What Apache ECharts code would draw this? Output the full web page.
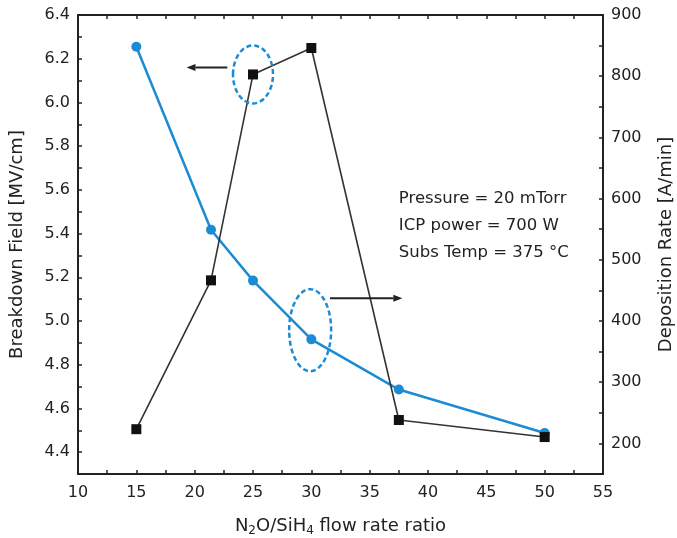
<!DOCTYPE html>
<html>
<head>
<meta charset="utf-8">
<script src="https://cdn.jsdelivr.net/npm/echarts@6/dist/echarts.min.js"></script>
<style>
    html, body { margin: 0; padding: 0; background: #fff; }
    #chart { width: 677px; height: 538px; }
</style>
</head>
<body>
<div id="chart"></div>
<script>
/* ===========================
   Data
=========================== */

const ratio = [15, 21.4, 25, 30, 37.5, 50];
const breakdownField = [4.505, 5.186, 6.128, 6.249, 4.547, 4.469];
const depositionRate = [848, 549, 466, 370, 288, 217];

const conditions = ["Pressure = 20 mTorr", "ICP power = 700 W", "Subs Temp = 375 \u00b0C"];

const BLUE = "#1b8bd3";
const INK = "#222";
const FONT = "DejaVu Sans";

/* ===========================
   Axes helpers
=========================== */

function xAxisBase(pos, showLabel) {
    return {
        type: "value",
        position: pos,
        min: 10,
        max: 55,
        interval: 2.5,
        axisLine: { show: true, lineStyle: { color: INK, width: 2 } },
        axisTick: { show: true, inside: true, length: 4, lineStyle: { color: INK, width: 1.5 } },
        splitLine: { show: false },
        axisLabel: {
            show: showLabel,
            margin: 11,
            color: INK,
            fontFamily: FONT,
            fontSize: 16,
            formatter: v => (Math.abs(v % 5) < 1e-6 ? String(v) : "")
        }
    };
}

/* ===========================
   Chart
=========================== */

const chart = echarts.init(document.getElementById("chart"));

chart.setOption({

    animation: false,

    grid: {
        left: 78, right: 74, top: 15, bottom: 64,
        containLabel: false,
        outerBoundsMode: "none"
    },

    xAxis: [
        Object.assign(xAxisBase("bottom", true), {
            name: "N{sub|2}O/SiH{sub|4} flow rate ratio",
            nameLocation: "middle",
            nameGap: 41,
            nameTextStyle: {
                color: INK,
                fontFamily: FONT,
                fontSize: 18,
                rich: {
                    sub: { fontFamily: FONT, fontSize: 12, color: INK, padding: [10, 0, 0, 0] }
                }
            }
        }),
        xAxisBase("top", false)
    ],

    yAxis: [
        {
            type: "value",
            position: "left",
            min: 4.3,
            max: 6.4,
            interval: 0.1,
            name: "Breakdown Field [MV/cm]",
            nameLocation: "middle",
            nameRotate: 90,
            nameGap: 52,
            nameTextStyle: { color: INK, fontFamily: FONT, fontSize: 18 },
            axisLine: { show: true, lineStyle: { color: INK, width: 2 } },
            axisTick: { show: true, inside: true, length: 4, lineStyle: { color: INK, width: 1.5 } },
            splitLine: { show: false },
            axisLabel: {
                margin: 8,
                color: INK,
                fontFamily: FONT,
                fontSize: 16,
                formatter: v => (Math.round(v * 10) % 2 === 0 ? v.toFixed(1) : "")
            }
        },
        {
            type: "value",
            position: "right",
            min: 150,
            max: 900,
            interval: 50,
            name: "Deposition Rate [A/min]",
            nameLocation: "middle",
            nameRotate: 90,
            nameGap: 54,
            nameTextStyle: { color: INK, fontFamily: FONT, fontSize: 18 },
            axisLine: { show: true, lineStyle: { color: INK, width: 2 } },
            axisTick: { show: true, inside: true, length: 4, lineStyle: { color: INK, width: 1.5 } },
            splitLine: { show: false },
            axisLabel: {
                margin: 8,
                color: INK,
                fontFamily: FONT,
                fontSize: 16,
                formatter: v => (v % 100 === 0 ? String(v) : "")
            }
        }
    ],

    series: [
        {
            name: "Deposition Rate",
            type: "line",
            xAxisIndex: 0,
            yAxisIndex: 1,
            data: ratio.map((x, i) => [x, depositionRate[i]]),
            symbol: "circle",
            symbolSize: 10,
            lineStyle: { color: BLUE, width: 2.5 },
            itemStyle: { color: BLUE }
        },
        {
            name: "Breakdown Field",
            type: "line",
            xAxisIndex: 0,
            yAxisIndex: 0,
            data: ratio.map((x, i) => [x, breakdownField[i]]),
            symbol: "rect",
            symbolSize: 10,
            lineStyle: { color: "#333", width: 1.6 },
            itemStyle: { color: "#111" }
        }
    ]

});

/* ===========================
   Annotations
=========================== */

const toLeft = p => chart.convertToPixel({ xAxisIndex: 0, yAxisIndex: 0 }, p);
const toRight = p => chart.convertToPixel({ xAxisIndex: 0, yAxisIndex: 1 }, p);

function ellipse(c, rx, ry) {
    return {
        type: "ellipse",
        shape: { cx: c[0], cy: c[1], rx: rx, ry: ry },
        style: { fill: "none", stroke: BLUE, lineWidth: 2.5, lineDash: [5, 3] },
        z: 10
    };
}

function arrow(a, b) {
    const dir = Math.sign(b[0] - a[0]);
    const tip = b;
    const base = tip[0] - dir * 9;
    return [
        {
            type: "line",
            shape: { x1: a[0], y1: a[1], x2: base, y2: b[1] },
            style: { stroke: INK, lineWidth: 2 },
            z: 10
        },
        {
            type: "polygon",
            shape: { points: [[tip[0], tip[1]], [base, tip[1] - 3.5], [base, tip[1] + 3.5]] },
            style: { fill: INK },
            z: 10
        }
    ];
}

const textY = [599, 555, 511];

const graphics = [
    ellipse(toLeft([25, 6.128]), 20, 29),
    ellipse(toRight([29.9, 385]), 21, 41)
]
    .concat(arrow(toLeft([22.8, 6.16]), toLeft([19.3, 6.16])))
    .concat(arrow(toRight([31.6, 437]), toRight([37.8, 437])));

conditions.forEach((t, i) => {
    const p = toRight([37.5, textY[i]]);
    graphics.push({
        type: "text",
        x: p[0],
        y: p[1],
        style: {
            text: t,
            fill: INK,
            font: "16.5px 'DejaVu Sans'",
            verticalAlign: "middle",
            textVerticalAlign: "middle"
        },
        z: 10
    });
});

chart.setOption({ graphic: graphics });
</script>
</body>
</html>
